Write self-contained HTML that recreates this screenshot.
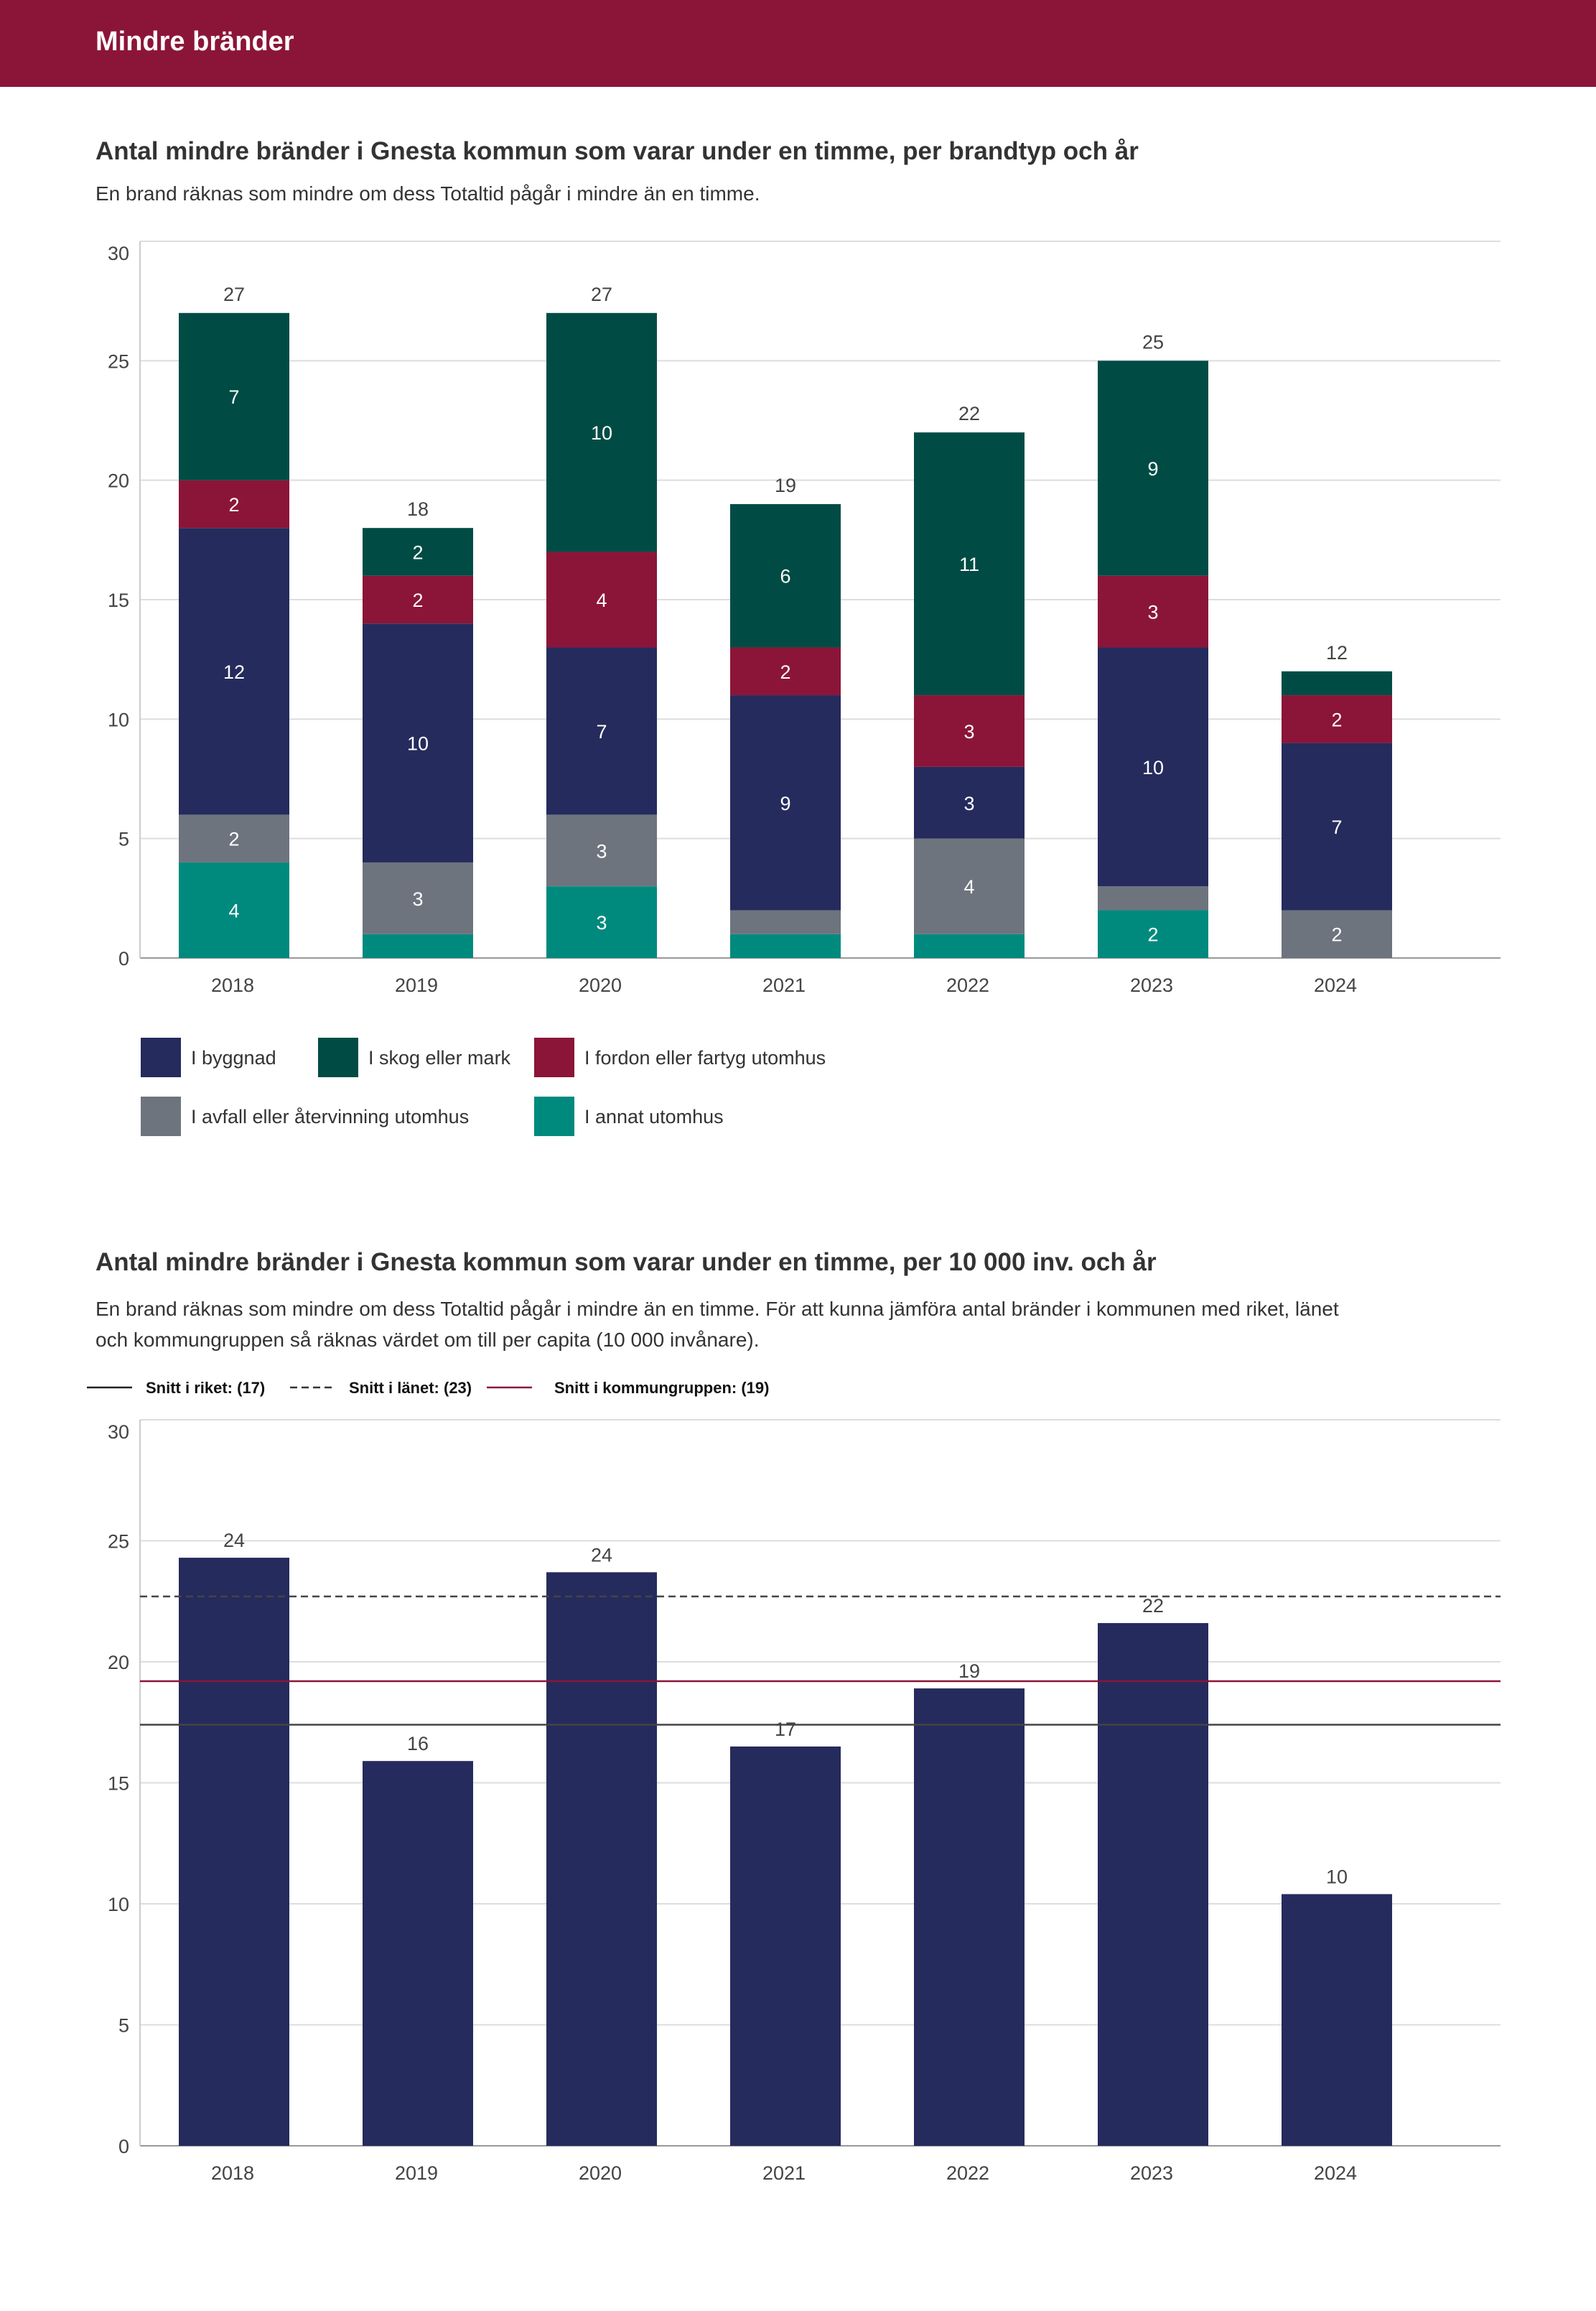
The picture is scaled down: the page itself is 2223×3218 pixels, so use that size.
<!DOCTYPE html>
<html><head><meta charset="utf-8">
<style>
html,body{margin:0;padding:0;background:#fff;}
body{width:2223px;height:3213px;position:relative;overflow:hidden;font-family:"Liberation Sans",sans-serif;}
svg text{font-family:"Liberation Sans",sans-serif;}
</style></head>
<body>
<svg id="page" width="2223" height="3213" viewBox="0 0 2223 3213" xmlns="http://www.w3.org/2000/svg">
<rect x="0" y="0" width="2223" height="121" fill="#8b1538"/>
<text x="133" y="70" font-size="38" font-weight="bold" fill="#fff">Mindre bränder</text>
<text x="133" y="222" font-size="35" font-weight="bold" fill="#333">Antal mindre bränder i Gnesta kommun som varar under en timme, per brandtyp och år</text>
<text x="133" y="279" font-size="28" fill="#333">En brand räknas som mindre om dess Totaltid pågår i mindre än en timme.</text>
<g id="c1"></g>
<g id="leg1"></g>
<text x="133" y="1769" font-size="35" font-weight="bold" fill="#333">Antal mindre bränder i Gnesta kommun som varar under en timme, per 10 000 inv. och år</text>
<text x="133" y="1832" font-size="28" fill="#333">En brand räknas som mindre om dess Totaltid pågår i mindre än en timme. För att kunna jämföra antal bränder i kommunen med riket, länet</text>
<text x="133" y="1875" font-size="28" fill="#333">och kommungruppen så räknas värdet om till per capita (10 000 invånare).</text>
<g id="leg2"></g>
<g id="c2"></g>
</svg>
<script>
const years = ["2018","2019","2020","2021","2022","2023","2024"];
const annat = [4,1,3,1,1,2,0];
const avfall = [2,3,3,1,4,1,2];
const byggnad = [12,10,7,9,3,10,7];
const fordon = [2,2,4,2,3,3,2];
const skog = [7,2,10,6,11,9,1];
const yTicks = [0,5,10,15,20,25,30];
const perCapita = [24.3,15.9,23.7,16.5,18.9,21.6,10.4];
const perCapitaLabels = ["24","16","24","17","19","22","10"];
const avgRiket = 17.4;
const avgLanet = 22.7;
const avgGrupp = 19.2;

const NS="http://www.w3.org/2000/svg";
function mk(tag,attrs,parent,txt){const e=document.createElementNS(NS,tag);for(const k in attrs)e.setAttribute(k,attrs[k]);if(txt!==undefined)e.textContent=txt;parent.appendChild(e);return e;}
const X0=195,X1=2090,bw=154;
function xc(i){return 326+i*256;}

function axes(g,yTop,yBot,name){
  const ys=v=>yBot-(v/30)*(yBot-yTop);
  yTicks.forEach(t=>{
    const l=mk('line',{x1:X0,x2:X1,y1:ys(t),y2:ys(t),stroke:t===0?'#999':'#ddd','stroke-width':2},g);
    
    
    const off=t===30?26:10;
    const tx=mk('text',{x:180,y:ys(t)+off,'font-size':27,fill:'#444','text-anchor':'end'},g,String(t));
    
    
  });
  const ax=mk('line',{x1:X0,x2:X0,y1:yTop,y2:yBot,stroke:'#ccc','stroke-width':2},g);
  
  
  years.forEach((y,i)=>{
    const tx=mk('text',{x:xc(i)-2,y:yBot+47,'font-size':27,fill:'#444','text-anchor':'middle'},g,y);
    
    
  });
  return ys;
}

const c1=document.getElementById('c1');
const ys1=axes(c1,336,1334,'chart1');
const series=[["annat",annat,"#008a7e"],["avfall",avfall,"#6e747e"],["byggnad",byggnad,"#252b5c"],["fordon",fordon,"#8b1538"],["skog",skog,"#004c45"]];
years.forEach((yr,i)=>{
  let acc=0;
  series.forEach(([nm,arr,col])=>{
    const v=arr[i]; if(!v)return;
    const yT=ys1(acc+v),yB=ys1(acc);
    const r=mk('rect',{x:xc(i)-bw/2,y:yT,width:bw,height:yB-yT,fill:col},c1);
    
    
    if(v>=2){
      const t=mk('text',{x:xc(i),y:(yT+yB)/2+10,'font-size':27,fill:'#fff','text-anchor':'middle'},c1,String(v));
      
      
    }
    acc+=v;
  });
  const t=mk('text',{x:xc(i),y:ys1(acc)-17,'font-size':27,fill:'#444','text-anchor':'middle'},c1,String(acc));
  
  
});
const leg1=document.getElementById('leg1');
[["I byggnad","#252b5c",196,1445],["I skog eller mark","#004c45",443,1445],["I fordon eller fartyg utomhus","#8b1538",744,1445],["I avfall eller återvinning utomhus","#6e747e",196,1527],["I annat utomhus","#008a7e",744,1527]].forEach(([lab,col,x,y])=>{
  const r=mk('rect',{x:x,y:y,width:56,height:55,fill:col},leg1);
  
  
  const t=mk('text',{x:x+70,y:y+37,'font-size':27,fill:'#333'},leg1,lab);
  
  
});

const leg2=document.getElementById('leg2');
[["Snitt i riket: (17)","#222","",121,203],["Snitt i länet: (23)","#333","10 6",404,486],["Snitt i kommungruppen: (19)","#8b1538","",678,772]].forEach(([lab,col,d,x,tx])=>{
  const l=mk('line',{x1:x,x2:x+63,y1:1932,y2:1932,stroke:col,'stroke-width':2.5},leg2);
  if(d)l.setAttribute('stroke-dasharray',d);
  
  
  const t=mk('text',{x:tx,y:1940,'font-size':22,'font-weight':'bold',fill:'#111'},leg2,lab);
  
  
});
const c2=document.getElementById('c2');
const ys2=axes(c2,1977,2988,'chart2');
perCapita.forEach((v,i)=>{
  const r=mk('rect',{x:xc(i)-bw/2,y:ys2(v),width:bw,height:ys2(0)-ys2(v),fill:'#252b5c'},c2);
  
  
  const t=mk('text',{x:xc(i),y:ys2(v)-15,'font-size':27,fill:'#444','text-anchor':'middle'},c2,perCapitaLabels[i]);
  
  
});
[[avgLanet,"#444","10 6","avg-lanet-line"],[avgGrupp,"#8b1538","","avg-kommungrupp-line"],[avgRiket,"#444","","avg-riket-line"]].forEach(([v,col,d,nm])=>{
  const l=mk('line',{x1:X0,x2:X1,y1:ys2(v),y2:ys2(v),stroke:col,'stroke-width':2.5},c2);
  if(d)l.setAttribute('stroke-dasharray',d);
  
  
});
</script>
</body></html>
